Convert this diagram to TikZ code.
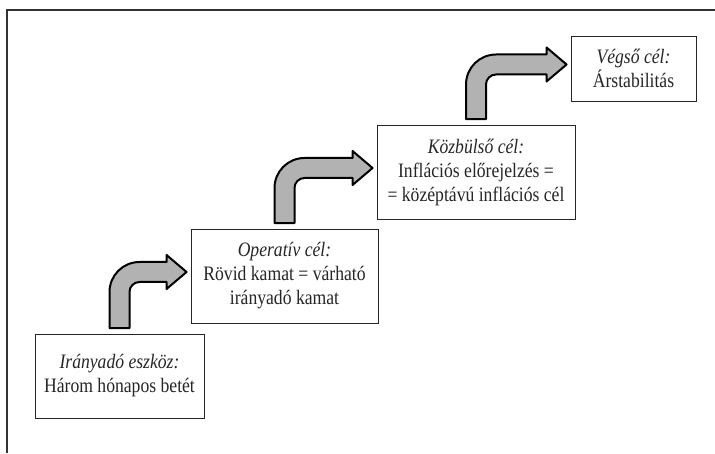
\documentclass[tikz,border=0pt]{standalone}
\usepackage{fontspec}
\setmainfont{Liberation Serif}[FakeStretch=0.86]
\usetikzlibrary{calc}
\tikzset{
  box/.style={draw=black!85, line width=0.9pt, fill=white, align=center, inner sep=0pt,
    text=black!85, font=\fontsize{20.5}{24}\selectfont},
  barrow/.style={draw=black, line width=2pt, line join=round, fill=black!30},
  frame/.style={draw=black!80, line width=1.6pt}
}
\newcommand\stepArrow[2]{%
\draw[barrow] let \p1=(#1.north), \p2=(#2.west) in
 ({\x1-10pt},{\y1+5.5pt}) -- ({\x1-10pt},{\y2-16pt})
 .. controls ({\x1-10pt},{\y2+0.57pt}) and ({\x1+3.43pt},{\y2+14pt}) .. ({\x1+20pt},{\y2+14pt})
 -- ({\x2-24pt},{\y2+14pt}) -- ({\x2-24pt},{\y2+21pt}) -- ({\x2-4pt},{\y2+4pt})
 -- ({\x2-24pt},{\y2-13pt}) -- ({\x2-24pt},{\y2-6pt})
 -- ({\x1+20pt},{\y2-6pt}) .. controls ({\x1+14.48pt},{\y2-6pt}) and ({\x1+10pt},{\y2-10.48pt}) .. ({\x1+10pt},{\y2-16pt})
 -- ({\x1+10pt},{\y1+5.5pt}) -- cycle;}
\begin{document}
\begin{tikzpicture}[x=1pt,y=1pt]
\useasboundingbox (0,0) rectangle (715,453);
\coordinate (fc) at (7,443);
\coordinate (fr) at (715,443);
\coordinate (fb) at (7,0);
\draw[frame] (fr) -- (fc) -- (fb);

\node[box, minimum width=169pt, minimum height=84pt] (b1) at (119.5,77)
  {\textit{Irányadó eszköz:}\\Három hónapos betét};
\node[box, minimum width=187pt, minimum height=94pt] (b2) at (284.5,177)
  {\textit{Operatív cél:}\\Rövid kamat = várható\\irányadó kamat};
\node[box, minimum width=198pt, minimum height=94pt] (b3) at (476,281)
  {\textit{Közbülső cél:}\\Inflációs előrejelzés =\\= középtávú inflációs cél};
\node[box, minimum width=125pt, minimum height=65pt] (b4) at (633.5,384.5)
  {\textit{Végső cél:}\\Árstabilitás};

\stepArrow{b1}{b2}
\stepArrow{b2}{b3}
\stepArrow{b3}{b4}
\end{tikzpicture}
\end{document}
